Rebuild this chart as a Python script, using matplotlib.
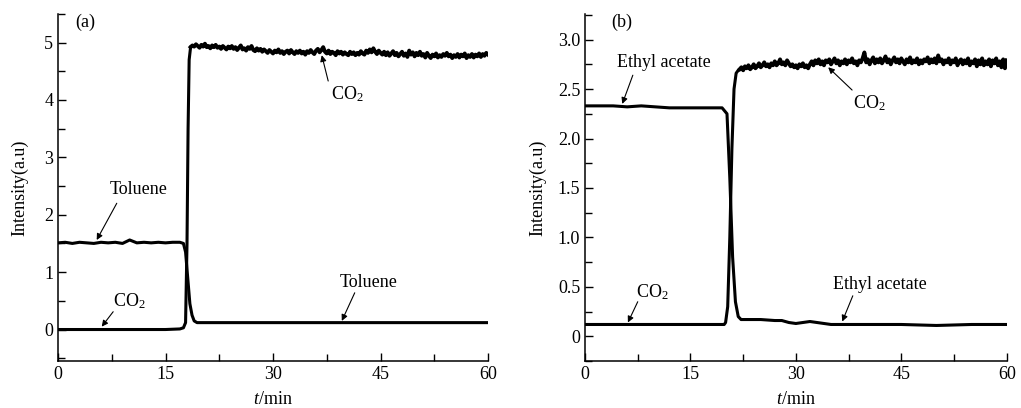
import numpy as np
import matplotlib
matplotlib.use("Agg")
import matplotlib.pyplot as plt
from matplotlib.ticker import MultipleLocator

plt.rcParams['font.family'] = ['Liberation Serif', 'DejaVu Serif']
plt.rcParams['mathtext.fontset'] = 'custom'
plt.rcParams['mathtext.rm'] = 'Liberation Serif'
plt.rcParams['mathtext.it'] = 'Liberation Serif:italic'

# ---------------- Panel (a): Toluene ----------------
a_tol_t = [0, 1, 2, 3, 4, 5, 6, 7, 8, 9, 10, 11, 12, 13, 14, 15, 16, 17, 17.5,
           17.8, 18.1, 18.4, 18.7, 19.0, 19.4, 20, 25, 30, 35, 40, 45, 50, 55, 60]
a_tol_y = [1.51, 1.52, 1.50, 1.52, 1.51, 1.50, 1.52, 1.51, 1.52, 1.50, 1.56, 1.51,
           1.52, 1.51, 1.52, 1.51, 1.52, 1.52, 1.50, 1.35, 0.90, 0.45, 0.25, 0.15,
           0.12, 0.12, 0.12, 0.12, 0.12, 0.12, 0.12, 0.12, 0.12, 0.12]

a_co2_rise_t = [0, 5, 10, 15, 17.0, 17.5, 17.8, 18.0, 18.15, 18.3]
a_co2_rise_y = [0.0, 0.0, 0.0, 0.0, 0.01, 0.03, 0.12, 1.5, 3.5, 4.7]
a_co2_high_y = [4.92, 4.95, 4.93, 4.97, 4.94, 4.91, 4.96, 4.93, 4.98, 4.92,
                4.94, 4.90, 4.95, 4.92, 4.96, 4.91, 4.93, 4.89, 4.94, 4.91,
                4.88, 4.93, 4.90, 4.94, 4.89, 4.92, 4.87, 4.91, 4.95, 4.88,
                4.90, 4.86, 4.92, 4.89, 4.94, 4.87, 4.85, 4.90, 4.86, 4.89,
                4.84, 4.88, 4.85, 4.82, 4.87, 4.84, 4.81, 4.86, 4.83, 4.88,
                4.82, 4.85, 4.80, 4.84, 4.86, 4.81, 4.87, 4.83, 4.80, 4.85,
                4.82, 4.86, 4.81, 4.84, 4.79, 4.85, 4.82, 4.87, 4.83, 4.80,
                4.86, 4.89, 4.83, 4.87, 4.92, 4.84, 4.81, 4.86, 4.80, 4.84,
                4.82, 4.78, 4.85, 4.81, 4.84, 4.79, 4.83, 4.80, 4.78, 4.84,
                4.80, 4.83, 4.78, 4.82, 4.79, 4.85, 4.81, 4.79, 4.86, 4.82,
                4.88, 4.83, 4.90, 4.84, 4.80, 4.86, 4.82, 4.79, 4.84, 4.78,
                4.83, 4.77, 4.81, 4.85, 4.78, 4.82, 4.76, 4.80, 4.84, 4.77,
                4.81, 4.75, 4.86, 4.79, 4.83, 4.76, 4.82, 4.78, 4.84, 4.77,
                4.80, 4.74, 4.82, 4.77, 4.73, 4.79, 4.76, 4.81, 4.74, 4.78,
                4.75, 4.80, 4.77, 4.82, 4.76, 4.79, 4.73, 4.78, 4.75, 4.80,
                4.74, 4.79, 4.76, 4.81, 4.73, 4.78, 4.75, 4.80, 4.74, 4.79,
                4.76, 4.81, 4.75, 4.80, 4.77, 4.82, 4.79]
a_co2_high_start, a_co2_high_end = 18.5, 60.0

# ---------------- Panel (b): Ethyl acetate ----------------
b_ea_t = [0, 2, 4, 6, 8, 10, 12, 14, 16, 18, 19.5, 20.2, 20.6, 21.0, 21.4, 21.8,
          22.2, 25, 27, 28, 29, 30, 31, 32, 33, 34, 35, 40, 45, 50, 55, 60]
b_ea_y = [2.33, 2.33, 2.33, 2.32, 2.33, 2.32, 2.31, 2.31, 2.31, 2.31, 2.31, 2.25,
          1.60, 0.80, 0.35, 0.20, 0.17, 0.17, 0.16, 0.16, 0.14, 0.13, 0.14, 0.15,
          0.14, 0.13, 0.12, 0.12, 0.12, 0.11, 0.12, 0.12]

b_co2_rise_t = [0, 5, 10, 15, 19.8, 20.0, 20.3, 20.6, 20.9, 21.2, 21.5, 21.8]
b_co2_rise_y = [0.12, 0.12, 0.12, 0.12, 0.12, 0.14, 0.30, 1.00, 1.90, 2.50, 2.66, 2.69]
b_co2_high_y = [2.70, 2.72, 2.69, 2.73, 2.71, 2.74, 2.70, 2.72, 2.75, 2.71,
                2.73, 2.76, 2.72, 2.74, 2.77, 2.73, 2.75, 2.72, 2.76, 2.74,
                2.78, 2.74, 2.76, 2.80, 2.75, 2.77, 2.74, 2.79, 2.76, 2.73,
                2.75, 2.72, 2.74, 2.71, 2.75, 2.73, 2.76, 2.72, 2.74, 2.71,
                2.75, 2.78, 2.74, 2.79, 2.76, 2.80, 2.75, 2.78, 2.74, 2.79,
                2.77, 2.80, 2.75, 2.78, 2.81, 2.76, 2.79, 2.74, 2.78, 2.76,
                2.80, 2.75, 2.79, 2.77, 2.81, 2.76, 2.78, 2.74, 2.79, 2.77,
                2.81, 2.87, 2.77, 2.80, 2.75, 2.79, 2.82, 2.76, 2.80, 2.77,
                2.81, 2.76, 2.79, 2.83, 2.77, 2.80, 2.75, 2.79, 2.82, 2.77,
                2.80, 2.76, 2.81, 2.78, 2.75, 2.80, 2.77, 2.82, 2.76, 2.79,
                2.77, 2.81, 2.75, 2.79, 2.76, 2.80, 2.78, 2.82, 2.76, 2.80,
                2.77, 2.81, 2.76, 2.84, 2.78, 2.80, 2.75, 2.79, 2.77, 2.81,
                2.75, 2.79, 2.77, 2.81, 2.74, 2.78, 2.80, 2.75, 2.79, 2.76,
                2.81, 2.74, 2.78, 2.76, 2.80, 2.73, 2.79, 2.75, 2.81, 2.74,
                2.78, 2.75, 2.80, 2.73, 2.79, 2.76, 2.81, 2.74, 2.78, 2.72,
                2.80, 2.71, 2.79]
b_co2_high_start, b_co2_high_end = 22.0, 60.0

x_ticks = [0, 15, 30, 45, 60]

fig = plt.figure(figsize=(10.21, 4.08), dpi=100)
axa = fig.add_axes([0.0568, 0.115, 0.4212, 0.851])
axb = fig.add_axes([0.573, 0.115, 0.413, 0.851])

LW = 2.2
LW_NOISY = 2.8


def style(ax, ylim, ymajor, yminor, yticklabels, ylabelpad):
    ax.set_xlim(0, 60)
    ax.set_ylim(*ylim)
    ax.spines['top'].set_visible(False)
    ax.spines['right'].set_visible(False)
    ax.set_xticks(x_ticks)
    ax.xaxis.set_minor_locator(MultipleLocator(7.5))
    ax.set_yticks(ymajor)
    ax.set_yticklabels(yticklabels)
    ax.yaxis.set_minor_locator(MultipleLocator(yminor))
    ax.tick_params(direction='in', which='major', length=6, width=1, labelsize=13)
    ax.tick_params(direction='in', which='minor', length=5, width=1)
    ax.set_xlabel(r'$\mathit{t}$/min', fontsize=13, labelpad=6)
    ax.set_ylabel('Intensity(a.u)', fontsize=13, labelpad=ylabelpad)
    for s in ax.spines.values():
        s.set_linewidth(1.1)


def arrow(ax, start, tip):
    ax.annotate('', xy=tip, xytext=start,
                arrowprops=dict(arrowstyle='-|>', color='k', lw=0.8,
                                mutation_scale=9, shrinkA=0, shrinkB=0))


# Panel (a)
t_a_high = np.linspace(a_co2_high_start, a_co2_high_end, len(a_co2_high_y))
axa.plot(a_tol_t, a_tol_y, color='k', lw=LW)
axa.plot(a_co2_rise_t + [a_co2_high_start], a_co2_rise_y + [a_co2_high_y[0]],
         color='k', lw=LW)
axa.plot(t_a_high, a_co2_high_y, color='k', lw=LW_NOISY)
style(axa, (-0.55, 5.5), [0, 1, 2, 3, 4, 5], 0.5, ['0', '1', '2', '3', '4', '5'], 11)
axa.text(2.4, 5.36, '(a)', fontsize=13, va='center', ha='left')
axa.text(11.2, 2.44, 'Toluene', fontsize=13, ha='center', va='center')
arrow(axa, (8.2, 2.2), (5.4, 1.56))
axa.text(40.3, 4.1, r'CO$_2$', fontsize=13, ha='center', va='center')
arrow(axa, (37.7, 4.33), (36.8, 4.78))
axa.text(10.0, 0.49, r'CO$_2$', fontsize=13, ha='center', va='center')
arrow(axa, (7.7, 0.31), (6.1, 0.05))
axa.text(43.4, 0.82, 'Toluene', fontsize=13, ha='center', va='center')
arrow(axa, (41.4, 0.64), (39.6, 0.15))

# Panel (b)
t_b_high = np.linspace(b_co2_high_start, b_co2_high_end, len(b_co2_high_y))
axb.plot(b_ea_t, b_ea_y, color='k', lw=LW)
axb.plot(b_co2_rise_t + [b_co2_high_start], b_co2_rise_y + [b_co2_high_y[0]],
         color='k', lw=LW)
axb.plot(t_b_high, b_co2_high_y, color='k', lw=LW_NOISY)
style(axb, (-0.25, 3.26), [0, 0.5, 1.0, 1.5, 2.0, 2.5, 3.0], 0.25,
      ['0', '0.5', '1.0', '1.5', '2.0', '2.5', '3.0'], 8)
axb.text(3.8, 3.17, '(b)', fontsize=13, va='center', ha='left')
axb.text(11.2, 2.77, 'Ethyl acetate', fontsize=13, ha='center', va='center')
arrow(axb, (6.8, 2.64), (5.3, 2.35))
axb.text(40.4, 2.36, r'CO$_2$', fontsize=13, ha='center', va='center')
arrow(axb, (38.0, 2.49), (34.6, 2.72))
axb.text(9.6, 0.45, r'CO$_2$', fontsize=13, ha='center', va='center')
arrow(axb, (7.5, 0.35), (6.1, 0.14))
axb.text(41.9, 0.52, 'Ethyl acetate', fontsize=13, ha='center', va='center')
arrow(axb, (38.1, 0.41), (36.6, 0.15))

fig.savefig('out.png', dpi=100)
